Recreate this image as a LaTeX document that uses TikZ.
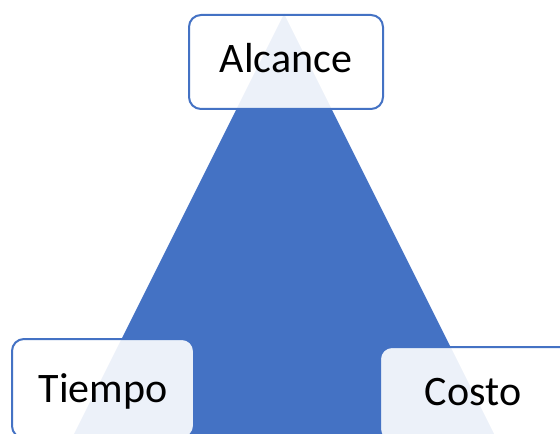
\documentclass[tikz,border=0pt]{standalone}
\usepackage{fontspec}
\setmainfont{Carlito}
\definecolor{officeblue}{HTML}{4472C4}
\begin{document}
\begin{tikzpicture}[x=1bp,y=-1bp,
  corner/.style={draw=officeblue, line width=2bp, fill=white, fill opacity=0.9,
    rounded corners=12bp, inner sep=0pt, anchor=north west},
  word/.style={font=\fontsize{42bp}{50bp}\selectfont, anchor=base, inner sep=0pt, text=black}]
  \useasboundingbox (0,0) rectangle (560,434);
  \clip (0,0) rectangle (560,434);
  % the triangle behind the three labels
  \coordinate (apex) at (284,14);
  \coordinate (bl) at (70,442);
  \coordinate (br) at (498,442);
  \fill[officeblue] (apex) -- (br) -- (bl) -- cycle;
  % label boxes
  \node[corner, minimum width=194bp, minimum height=94bp] (alcance) at (188,14) {};
  \node[corner, minimum width=182bp, minimum height=99bp] (tiempo) at (11,338) {};
  \node[corner, minimum width=200bp, minimum height=94bp] (costo) at (379,346) {};
  % labels
  \node[word] (talcance) at ([yshift=-11bp]alcance.center) {Alcance};
  \node[word] (ttiempo) at ([yshift=-13.5bp]tiempo.center) {Tiempo};
  \node[word] (tcosto) at ([yshift=-11bp,xshift=-7bp]costo.center) {Costo};
\end{tikzpicture}
\end{document}
